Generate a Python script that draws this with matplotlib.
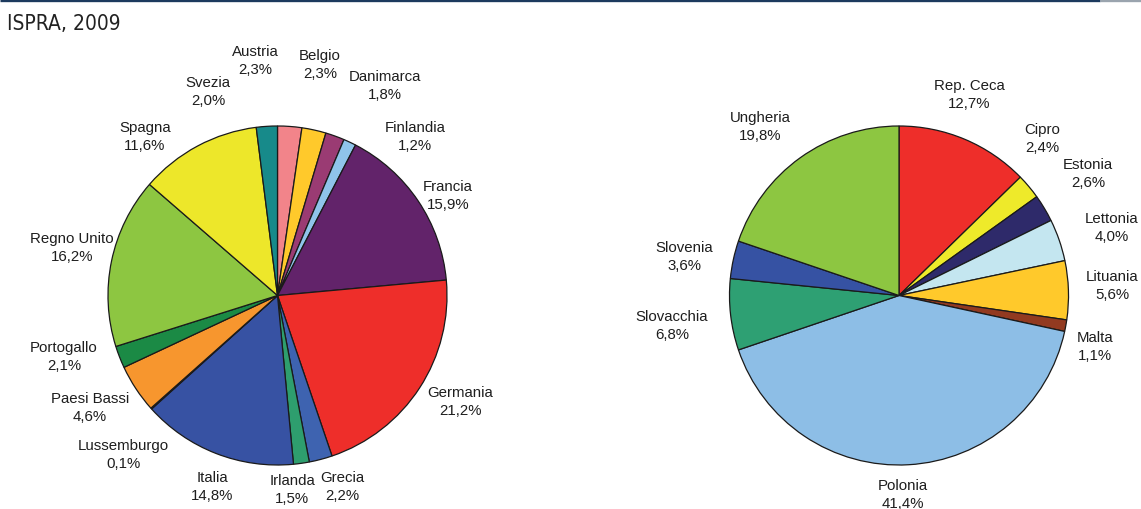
import matplotlib
matplotlib.use("Agg")
import matplotlib.pyplot as plt

# ---- data ----
left_names = ["Austria", "Belgio", "Danimarca", "Finlandia", "Francia", "Germania",
              "Grecia", "Irlanda", "Italia", "Lussemburgo", "Paesi Bassi",
              "Portogallo", "Regno Unito", "Spagna", "Svezia"]
left_values = [2.3, 2.3, 1.8, 1.2, 15.9, 21.2, 2.2, 1.5, 14.8, 0.1, 4.6, 2.1, 16.2, 11.6, 2.0]
left_colors = ["#F2848A", "#FFC92B", "#9A3B73", "#8FC4EA", "#62236A", "#EE2E2A",
               "#3E63B0", "#2E9E6E", "#3752A3", "#6A6AA0", "#F7962E",
               "#1B8A45", "#8DC641", "#EDE72A", "#178A8A"]

right_names = ["Rep. Ceca", "Cipro", "Estonia", "Lettonia", "Lituania", "Malta",
               "Polonia", "Slovacchia", "Slovenia", "Ungheria"]
right_values = [12.7, 2.4, 2.6, 4.0, 5.6, 1.1, 41.4, 6.8, 3.6, 19.8]
right_colors = ["#EE2E2A", "#EEEA2A", "#2E2A6A", "#C4E6F0", "#FFC92B", "#923A20",
                "#8DBEE6", "#2EA073", "#3652A3", "#8DC641"]

# label anchor positions (pixel coords, centre of two-line label)
left_label_pos = [(255, 61), (320, 65), (385, 86), (415, 137), (448, 196), (460, 402),
                  (342, 487), (292, 490), (212, 487), (123, 455), (90, 408),
                  (64, 357), (72, 248), (145, 137), (208, 92)]
right_label_pos = [(969, 95), (1042, 139), (1088, 174), (1112, 228), (1112, 286),
                   (1095, 347), (903, 495), (672, 326), (684, 257), (760, 127)]

W, H = 1141, 510
fig = plt.figure(figsize=(W / 100, H / 100), dpi=100)
ax = fig.add_axes([0, 0, 1, 1])
ax.set_xlim(0, W)
ax.set_ylim(0, H)
ax.set_aspect("equal")
ax.axis("off")

font = ["Liberation Sans", "DejaVu Sans"]

def pie(values, colors, center, radius):
    ax.pie(values, colors=colors, center=center, radius=radius, startangle=90,
           counterclock=False,
           wedgeprops=dict(edgecolor="#1a1a1a", linewidth=0.9))

pie(left_values, left_colors, (277.5, H - 296.5), 169.5)
pie(right_values, right_colors, (899, H - 296.5), 169.5)

def fmt(v):
    return ("%.1f" % v).replace(".", ",") + "%"

for names, vals, pos in [(left_names, left_values, left_label_pos),
                         (right_names, right_values, right_label_pos)]:
    for n, v, (x, y) in zip(names, vals, pos):
        ax.text(x, H - y, n + "\n" + fmt(v), ha="center", va="center",
                fontsize=10.8, family=font, color="#1e1e1e", linespacing=1.4)

ax.set_xlim(0, W)
ax.set_ylim(0, H)

# top border
ax.plot([0, 1100], [H - 1.2, H - 1.2], color="#1C3A5E", lw=2.4, solid_capstyle="butt")
ax.plot([1100, W], [H - 1.2, H - 1.2], color="#9AA4AE", lw=2.4, solid_capstyle="butt")

fig.text(7 / W, 1 - 24 / H, "ISPRA, 2009", ha="left", va="center", fontsize=15,
         family="DejaVu Sans", stretch="condensed",
         color="#222222")

fig.savefig("out.png", dpi=100, facecolor="white")
